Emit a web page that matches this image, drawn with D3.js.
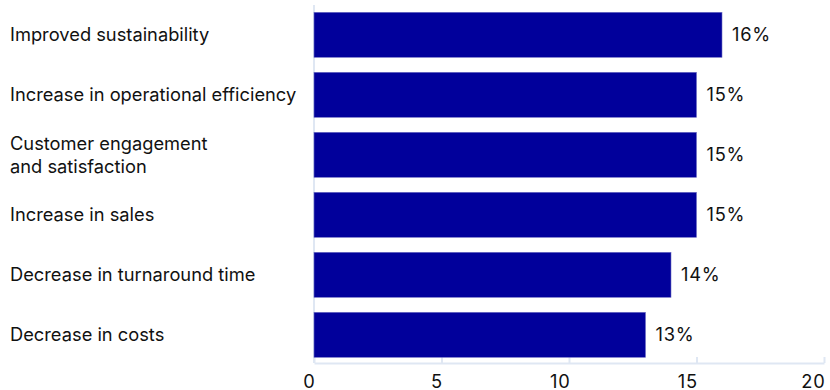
<!DOCTYPE html>
<html><head><meta charset="utf-8">
<script src="https://cdn.jsdelivr.net/npm/d3@7"></script>
<style>body{margin:0;background:#fff;}svg{display:block;font-family:Inter,"Noto Sans",sans-serif;}</style>
</head><body><svg id="c" width="830" height="390"></svg>
<script>
const categories = [["Improved sustainability"],["Increase in operational efficiency"],["Customer engagement","and satisfaction"],["Increase in sales"],["Decrease in turnaround time"],["Decrease in costs"]];
const values = [16, 15, 15, 15, 14, 13];
const labels = ["16%","15%","15%","15%","14%","13%"];
const xTicks = [0,5,10,15,20];

const svg = d3.select("#c");
const x = d3.scaleLinear().domain([0,20]).range([314,824]);
const y = d3.scaleBand().domain(d3.range(values.length)).range([4.8,364.8]).paddingInner(0.25).paddingOuter(0.125);
const axisY = 363, axisColor = "#dfe7f3";
const fs = 18.3;

// axis lines
svg.append("line").attr("x1",x(0)).attr("x2",x(0)).attr("y1",5).attr("y2",axisY).attr("stroke",axisColor).attr("stroke-width",2);
const ax = svg.append("g").attr("transform",`translate(0,${axisY})`)
  .call(d3.axisBottom(x).tickValues(xTicks).tickSizeInner(-6).tickSizeOuter(0));
ax.select(".domain").attr("stroke",axisColor).attr("stroke-width",2);
ax.selectAll(".tick line").attr("stroke",axisColor).attr("stroke-width",2);
ax.selectAll(".tick text").attr("font-size",fs).attr("fill","#111").attr("font-family","Inter,sans-serif")
  .attr("y",25).attr("dy",0).attr("text-anchor","end").attr("x",1).attr("letter-spacing",0.8);

// bars
svg.selectAll("rect.bar").data(values).join("rect").attr("class","bar")
  .attr("x",x(0)).attr("y",(d,i)=>y(i)).attr("width",d=>x(d)-x(0)).attr("height",y.bandwidth())
  .attr("fill","#01009b").attr("stroke","#6f6fc4").attr("stroke-width",0.6);

// value labels
svg.selectAll("text.val").data(values).join("text").attr("class","val")
  .attr("x",d=>x(d)+10).attr("y",(d,i)=>y(i)+y.bandwidth()/2).attr("dy","0.36em")
  .attr("font-size",fs).attr("letter-spacing",0.7).attr("fill","#111").text((d,i)=>labels[i]);

// category labels
const cg = svg.selectAll("text.cat").data(categories).join("text").attr("class","cat")
  .attr("x",10).attr("font-size",fs).attr("fill","#111")
  .attr("y",(d,i)=>y(i)+y.bandwidth()/2);
cg.each(function(d){
  const t = d3.select(this);
  const n = d.length, lh = 23;
  d.forEach((line,k)=>{
    t.append("tspan").attr("x",10).attr("dy", k===0 ? (0.36*fs - (n-1)*lh/2) : lh).text(line);
  });
});
</script></body></html>
